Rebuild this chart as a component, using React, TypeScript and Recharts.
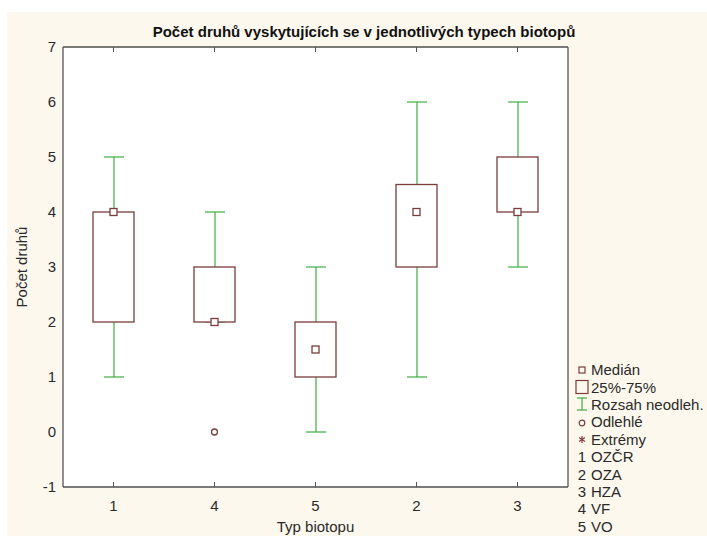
import React from 'react';
import {
    ComposedChart,
    Bar,
    Line,
    XAxis,
    YAxis,
    CartesianGrid
} from 'recharts';

// biotope types in plotted order
const categories = ['1', '4', '5', '2', '3'];
const lowerQuartile = [2, 2, 1, 3, 4];
const upperQuartile = [4, 3, 2, 4.5, 5];
const medians = [4, 2, 1.5, 4, 4];
const whiskerLow = [1, 2, 0, 1, 3];
const whiskerHigh = [5, 4, 3, 6, 6];
const outliers: (number | null)[] = [null, 0, null, null, null];

const yTicks = [-1, 0, 1, 2, 3, 4, 5, 6, 7];

const legendSymbols = ['Medián', '25%-75%', 'Rozsah neodleh.', 'Odlehlé', 'Extrémy'];
const biotopeCodes = ['1', '2', '3', '4', '5'];
const biotopeNames = ['OZČR', 'OZA', 'HZA', 'VF', 'VO'];

const BOX = '#7a3c3c';
const WHISKER = '#3fae3f';
const AXIS = '#555';
const TEXT = '#2a2a2a';
const FONT = '"Liberation Sans", Arial, sans-serif';

const data = categories.map((c, i) => ({
    name: c,
    box: [lowerQuartile[i], upperQuartile[i]],
    whisker: [whiskerLow[i], whiskerHigh[i]],
    median: medians[i],
    outlier: outliers[i]
}));

const WhiskerShape = (props: any) => {
    const { x, y, width, height } = props;
    const cx = x + width / 2;
    return (
        <g stroke={WHISKER} strokeWidth={1.2}>
            <line x1={cx} x2={cx} y1={y} y2={y + height} />
            <line x1={x} x2={x + width} y1={y} y2={y} />
            <line x1={x} x2={x + width} y1={y + height} y2={y + height} />
        </g>
    );
};

const BoxShape = (props: any) => {
    const { x, y, width, height } = props;
    return <rect x={x} y={y} width={width} height={height} fill="#fff" stroke={BOX} strokeWidth={1.3} />;
};

const MedianDot = (props: any) => {
    const { cx, cy, value, index } = props;
    if (value == null || cy == null) return <g key={index} />;
    return <rect key={index} x={cx - 3.5} y={cy - 3.5} width={7} height={7} fill="#fff" stroke={BOX} strokeWidth={1.3} />;
};

const OutlierDot = (props: any) => {
    const { cx, cy, value, index } = props;
    if (value == null || cy == null) return <g key={index} />;
    return <circle key={index} cx={cx} cy={cy} r={3} fill="#fff" stroke={BOX} strokeWidth={1.3} />;
};

const EmptyTick = () => <g />;

function LegendIcon({ kind }: { kind: number }) {
    const s = { width: 14, height: 16 };
    switch (kind) {
        case 0:
            return <svg {...s}><rect x={4} y={5} width={6} height={6} fill="none" stroke={BOX} strokeWidth={1.2} /></svg>;
        case 1:
            return <svg {...s}><rect x={1} y={1.5} width={12} height={13} fill="none" stroke={BOX} strokeWidth={1.2} /></svg>;
        case 2:
            return (
                <svg {...s}>
                    <g stroke={WHISKER} strokeWidth={1.2}>
                        <line x1={7} x2={7} y1={2} y2={14} />
                        <line x1={2} x2={12} y1={2} y2={2} />
                        <line x1={2} x2={12} y1={14} y2={14} />
                    </g>
                </svg>
            );
        case 3:
            return <svg {...s}><circle cx={7} cy={9} r={2.8} fill="none" stroke={BOX} strokeWidth={1.2} /></svg>;
        default:
            // asterisk for extremes
            return (
                <svg {...s}>
                    <g stroke={BOX} strokeWidth={1.2}>
                        <line x1={7} x2={7} y1={5} y2={12} />
                        <line x1={4} x2={10} y1={6.5} y2={10.5} />
                        <line x1={4} x2={10} y1={10.5} y2={6.5} />
                    </g>
                </svg>
            );
    }
}

export default function App() {
    const rowStyle: React.CSSProperties = { height: 17.4, display: 'flex', alignItems: 'center', whiteSpace: 'nowrap' };
    return (
        <div style={{ position: 'absolute', left: 0, top: 0, width: 707, height: 536, background: '#fff', fontFamily: FONT }}>
            <div style={{ position: 'absolute', left: 7, top: 12, width: 700, height: 524, background: '#fdf8ee' }} />
            <div style={{ position: 'absolute', left: 0, top: 0 }}>
                <ComposedChart
                    width={707}
                    height={536}
                    data={data}
                    margin={{ top: 46, right: 138, bottom: 0, left: 8 }}
                >
                    <CartesianGrid horizontal vertical={false} stroke="#d9d9d9" fill="#fff" />
                    <text x={364} y={37} textAnchor="middle" fontSize={15} fontWeight="bold" fill="#111" fontFamily={FONT}>
                        Počet druhů vyskytujících se v jednotlivých typech biotopů
                    </text>
                    <XAxis
                        dataKey="name"
                        xAxisId="main"
                        height={49}
                        axisLine={{ stroke: AXIS, strokeWidth: 1.3 }}
                        tickLine={{ stroke: AXIS }}
                        tickSize={-5}
                        tickMargin={18}
                        tick={{ fill: TEXT, fontSize: 15, fontFamily: FONT }}
                        label={{ value: 'Typ biotopu', position: 'insideBottom', offset: 4, fill: TEXT, fontSize: 15, fontFamily: FONT }}
                    />
                    <XAxis
                        dataKey="name"
                        xAxisId="top"
                        orientation="top"
                        height={1}
                        axisLine={{ stroke: AXIS, strokeWidth: 1.3 }}
                        tickLine={{ stroke: AXIS }}
                        tickSize={-5}
                        tick={EmptyTick}
                    />
                    <XAxis dataKey="name" xAxisId="box" orientation="top" height={0} hide />
                    <YAxis
                        yAxisId="left"
                        width={55}
                        domain={[-1, 7]}
                        ticks={yTicks}
                        interval={0}
                        axisLine={{ stroke: AXIS, strokeWidth: 1.3 }}
                        tickLine={false}
                        tickSize={0}
                        tickMargin={7}
                        tick={{ fill: TEXT, fontSize: 15, fontFamily: FONT }}
                        label={{ value: 'Počet druhů', angle: -90, position: 'insideLeft', offset: 14, fill: TEXT, fontSize: 15, fontFamily: FONT, style: { textAnchor: 'middle' } }}
                    />
                    <YAxis
                        yAxisId="right"
                        orientation="right"
                        width={1}
                        domain={[-1, 7]}
                        ticks={yTicks}
                        axisLine={{ stroke: AXIS, strokeWidth: 1.3 }}
                        tickLine={false}
                        tick={EmptyTick}
                    />
                    <Bar
                        dataKey="whisker"
                        xAxisId="main"
                        yAxisId="left"
                        barSize={20}
                        shape={WhiskerShape}
                        isAnimationActive={false}
                    />
                    <Bar
                        dataKey="box"
                        xAxisId="box"
                        yAxisId="left"
                        barSize={41}
                        shape={BoxShape}
                        isAnimationActive={false}
                    />
                    <Line
                        dataKey="median"
                        xAxisId="main"
                        yAxisId="left"
                        stroke="none"
                        dot={MedianDot}
                        activeDot={false}
                        isAnimationActive={false}
                    />
                    <Line
                        dataKey="outlier"
                        xAxisId="main"
                        yAxisId="left"
                        stroke="none"
                        dot={OutlierDot}
                        activeDot={false}
                        isAnimationActive={false}
                    />
                </ComposedChart>
            </div>
            <div style={{ position: 'absolute', left: 575, top: 361, fontSize: 15, color: TEXT }}>
                {legendSymbols.map((label, i) => (
                    <div key={label} style={rowStyle}>
                        <LegendIcon kind={i} />
                        <span style={{ marginLeft: 2 }}>{label}</span>
                    </div>
                ))}
                {biotopeCodes.map((code, i) => (
                    <div key={code} style={rowStyle}>
                        <span style={{ width: 14, display: 'inline-block', textAlign: 'center' }}>{code}</span>
                        <span style={{ marginLeft: 2 }}>{biotopeNames[i]}</span>
                    </div>
                ))}
            </div>
        </div>
    );
}
